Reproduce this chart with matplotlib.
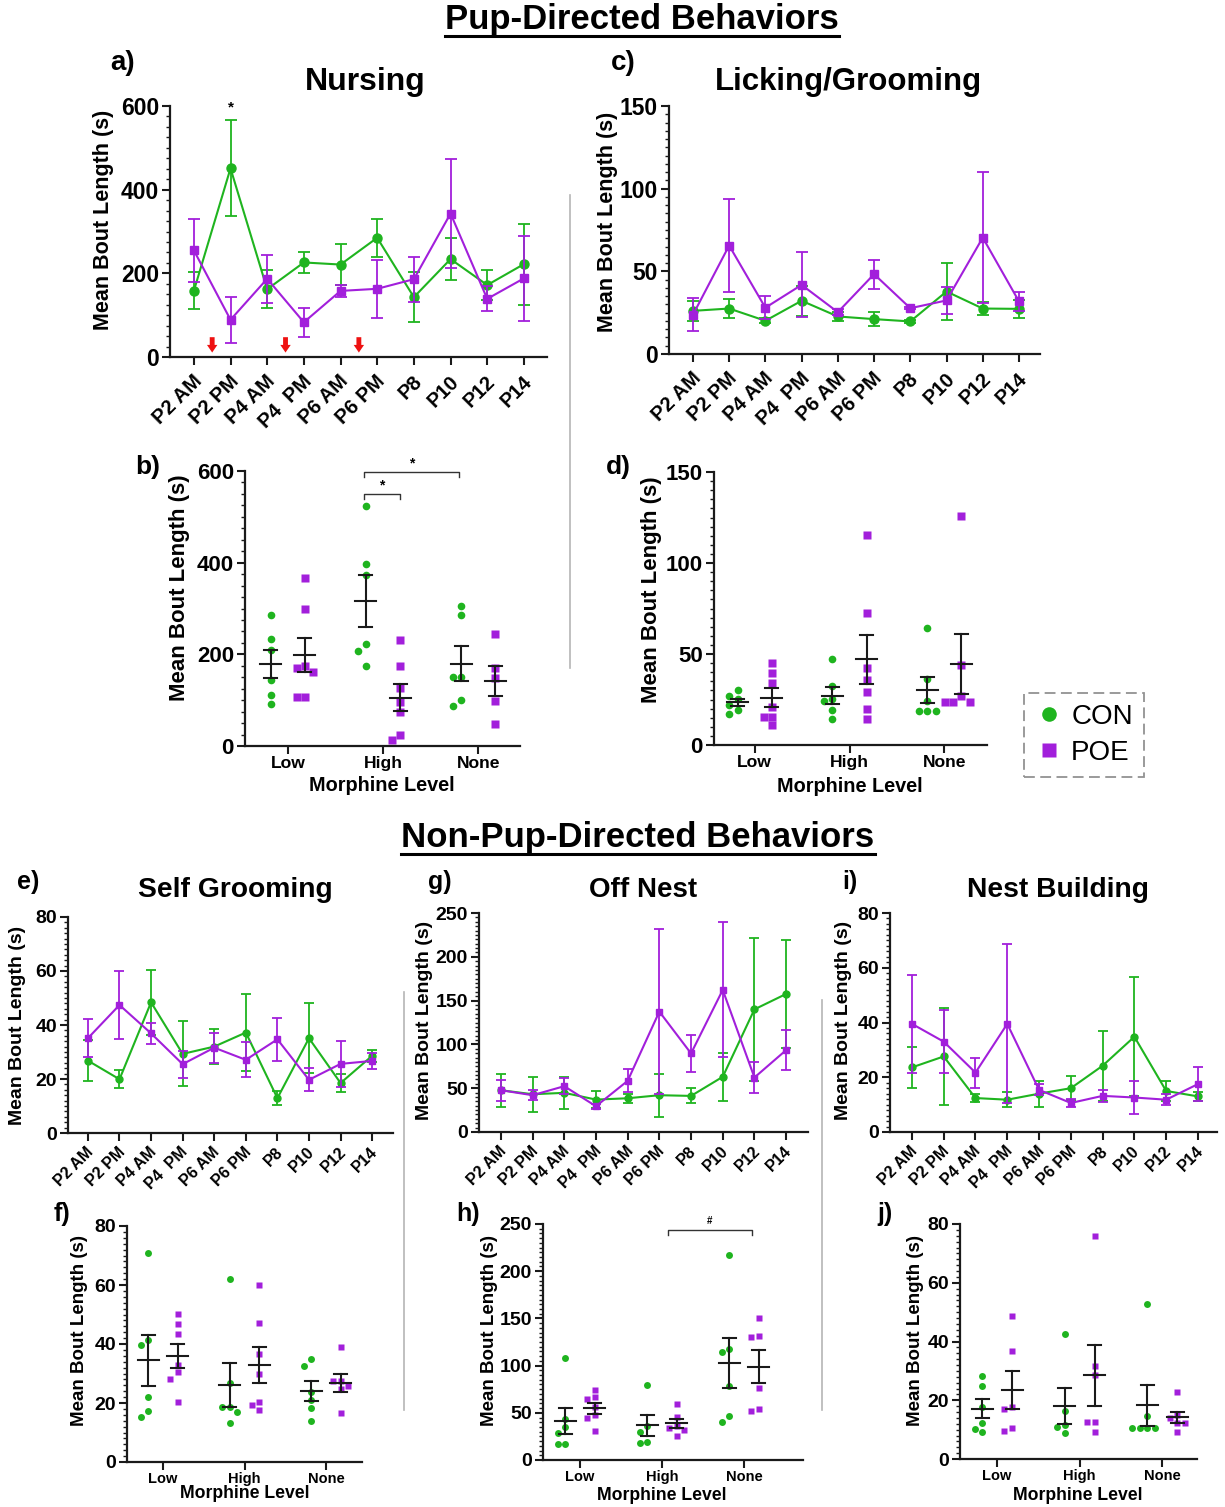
import numpy as np
import matplotlib
matplotlib.use('Agg')
import matplotlib.pyplot as plt
from matplotlib.lines import Line2D
from matplotlib.ticker import MultipleLocator
from matplotlib.transforms import ScaledTranslation

plt.rcParams['font.family'] = ['Liberation Sans', 'DejaVu Sans']
plt.rcParams['font.weight'] = 'bold'
plt.rcParams['axes.labelweight'] = 'bold'

W, H = 1225, 1507
GREEN = '#1FB41F'
PURPLE = '#A21FDB'
DARK = '#1a1a1a'

# ---------------- data ----------------
timepoints = ['P2 AM', 'P2 PM', 'P4 AM', 'P4  PM', 'P6 AM', 'P6 PM', 'P8', 'P10', 'P12', 'P14']
levels = ['Low', 'High', 'None']

nurs_con_mean = [158, 451, 162, 226, 221, 285, 143, 234, 172, 222]
nurs_con_sem = [44, 115, 46, 25, 49, 46, 60, 50, 35, 97]
nurs_poe_mean = [255, 89, 187, 83, 158, 163, 186, 343, 139, 188]
nurs_poe_sem = [75, 55, 57, 35, 15, 70, 54, 130, 30, 102]

lick_con_mean = [26.1, 27.5, 20.1, 32.2, 22.7, 21.1, 19.7, 37.8, 27.5, 27.3]
lick_con_sem = [6, 6, 1.5, 9, 3, 4.4, 1, 17.5, 4, 5.5]
lick_poe_mean = [23.7, 65.6, 28, 41.8, 25.3, 48.3, 27.7, 32.4, 70.4, 31.8]
lick_poe_sem = [10, 28, 7, 19.6, 2, 8.7, 0.5, 8, 39.7, 5.6]

self_con_mean = [26.8, 19.9, 48.4, 29.3, 32, 37.2, 12.9, 35.1, 18.5, 28.6]
self_con_sem = [7.5, 3.4, 12, 12, 6.5, 14.3, 2.6, 13, 3.3, 2.3]
self_poe_mean = [35.1, 47.4, 36.9, 25.5, 31.6, 27.1, 34.7, 19.7, 25.6, 26.7]
self_poe_sem = [7, 12.6, 4, 5, 5.5, 6.5, 8, 4.2, 8.6, 3]

off_con_mean = [47.7, 43.1, 44.7, 37, 38.5, 42, 41.2, 63, 140, 157.6]
off_con_sem = [18.7, 20, 18, 10, 5, 24.5, 8.6, 27.6, 82, 62]
off_poe_mean = [47.7, 42, 52.3, 29.4, 58.4, 137.4, 89.7, 162.2, 62.2, 93.5]
off_poe_sem = [12, 6, 9, 3, 13, 94, 21.5, 77, 18, 23]

nest_con_mean = [23.6, 27.6, 12.4, 11.8, 14, 16, 24.2, 34.8, 15, 13]
nest_con_sem = [7.6, 17.8, 1.6, 2.8, 4.7, 4.3, 12.7, 21.8, 3.8, 1.5]
nest_poe_mean = [39.5, 33, 21.7, 39.5, 15.4, 10.6, 13.2, 12.6, 11.8, 17.5]
nest_poe_sem = [17.8, 11.5, 5.5, 29, 2, 1.6, 2.3, 6, 2, 6.2]

# individual dams per morphine level (Low, High, None)
nurs_con_pts = [[285, 234, 210, 143, 112, 92], [524, 397, 373, 222, 207, 174], [305, 285, 151, 151, 100, 87]]
nurs_poe_pts = [[367, 300, 174, 171, 162, 107, 106], [232, 174, 127, 95, 74, 23, 12], [245, 171, 149, 98, 47]]
lick_con_pts = [[30, 27, 25.5, 22, 19.5, 17], [47, 32.5, 25.5, 24, 19.3, 14.1], [64.2, 36.1, 24.4, 18.9, 18.9, 18.9]]
lick_poe_pts = [[45, 39.8, 33.9, 21.1, 15.6, 15.6, 11], [115.5, 72.8, 42.2, 35.8, 29.3, 19.6, 14.1],
                [125.6, 44, 27, 23.8, 23.8, 23.8]]
self_con_pts = [[71, 41.4, 39.7, 22.2, 17.4, 15.2], [62, 26.7, 18.6, 18.6, 17, 13.2], [35, 32.7, 23.6, 21.1, 18.3, 13.8]]
self_poe_pts = [[50.1, 46.7, 43.3, 32.9, 30.4, 28.2, 20.5], [59.9, 47, 36.7, 29.8, 20.5, 19.2, 17.7],
                [38.9, 27.5, 27.3, 25.9, 24.7, 16.6]]
off_con_pts = [[108.4, 43, 35.3, 28.2, 16.6, 16.6], [79.4, 36.4, 30, 19.4, 17.7], [217.2, 117.6, 114, 78.7, 47, 40.6]]
off_poe_pts = [[74.2, 66.4, 64.3, 55.8, 47.7, 44.1, 31], [59.3, 45.9, 36.4, 34.2, 31.8, 25.4],
               [150.8, 131.4, 130, 75.9, 54, 51.6]]
nest_con_pts = [[28.4, 24.9, 17.7, 12.2, 10.3, 9.2], [42.5, 16.5, 11.7, 10.8, 8.8], [52.8, 14.8, 10.5, 10.5, 10.5, 10.5]]
nest_poe_pts = [[48.8, 36.8, 17.7, 17, 10.5, 9.6], [75.9, 31.8, 28.7, 12.5, 12.5, 9.2], [22.8, 15.1, 13.9, 12.2, 12.2, 9.2]]

fig = plt.figure(figsize=(W / 100, H / 100), dpi=100)
fig.patch.set_facecolor('white')


def px_axes(box):
    l, t, r, b = box
    return fig.add_axes([l / W, 1 - b / H, (r - l) / W, (b - t) / H])


def style(ax, box, ymax, major, minor, ytfs, ylabel, ylab_c, ylfs):
    l, t, r, b = box
    for s in ['top', 'right']:
        ax.spines[s].set_visible(False)
    for s in ['left', 'bottom']:
        ax.spines[s].set_linewidth(1.6)
        ax.spines[s].set_color(DARK)
    ax.set_ylim(0, ymax)
    ax.yaxis.set_major_locator(MultipleLocator(major))
    ax.yaxis.set_minor_locator(MultipleLocator(minor))
    ax.tick_params(axis='y', which='major', length=6, width=1.5, labelsize=ytfs, pad=2, color=DARK)
    ax.tick_params(axis='y', which='minor', length=3, width=1.0, color=DARK)
    ax.tick_params(axis='x', which='major', length=6, width=1.5, color=DARK)
    ax.patch.set_alpha(0)
    ax.set_ylabel(ylabel, fontsize=ylfs, fontweight='bold', va='center')
    cx, cy = ylab_c
    ax.yaxis.set_label_coords((cx - l) / (r - l), (b - cy) / (b - t))


def line_panel(box, xlim, ymax, major, minor, cm, cs, pm, ps, ms, xtfs, ytfs, ylab_c, ylfs, lpad, shift):
    ax = px_axes(box)
    x = np.arange(len(timepoints))
    ax.errorbar(x, cm, yerr=cs, color=GREEN, marker='o', ms=ms, lw=1.5, capsize=ms * 0.65,
                elinewidth=1.3, capthick=1.3, zorder=3)
    ax.errorbar(x, pm, yerr=ps, color=PURPLE, marker='s', ms=ms * 0.95, lw=1.5, capsize=ms * 0.65,
                elinewidth=1.3, capthick=1.3, zorder=4)
    ax.set_xlim(*xlim)
    style(ax, box, ymax, major, minor, ytfs, 'Mean Bout Length (s)', ylab_c, ylfs)
    ax.set_xticks(x)
    ax.set_xticklabels(timepoints, rotation=45, ha='right', va='center', rotation_mode='anchor',
                       fontsize=xtfs, fontweight='bold')
    ax.tick_params(axis='x', pad=lpad)
    off = ScaledTranslation(shift[0] / 100, -shift[1] / 100, fig.dpi_scale_trans)
    for lbl in ax.get_xticklabels():
        lbl.set_transform(lbl.get_transform() + off)
    return ax


def swarm_offsets(vals, ppx, ppy, d):
    vals = np.asarray(vals, float)
    order = np.argsort(-vals)
    placed = []
    offs = np.zeros(len(vals))
    for i in order:
        y = vals[i] * ppy
        k = 0
        while True:
            cands = [0.0] if k == 0 else [-k * d, k * d]
            ok = None
            for c in cands:
                if all((c - px) ** 2 + (y - py) ** 2 >= (0.95 * d) ** 2 for px, py in placed):
                    ok = c
                    break
            if ok is not None:
                offs[i] = ok / ppx
                placed.append((ok, y))
                break
            k += 1
    return offs


def group_panel(box, xlim, ymax, major, minor, con_pts, poe_pts, ms, xtfs, ytfs, ylab_c, ylfs, xlab_c, xlfs):
    ax = px_axes(box)
    l, t, r, b = box
    ppx = (r - l) / (xlim[1] - xlim[0])
    ppy = (b - t) / ymax
    d = ms * 1.389 + 0.6
    for gi in range(len(levels)):
        for pts, off, col, mk, msz in [(con_pts[gi], -0.18, GREEN, 'o', ms), (poe_pts[gi], 0.18, PURPLE, 's', ms * 0.92)]:
            xc = gi + off
            jit = swarm_offsets(pts, ppx, ppy, d)
            ax.plot(xc + jit, pts, ls='', marker=mk, ms=msz, color=col, mec='none', zorder=2, clip_on=False)
            arr = np.asarray(pts, float)
            m = arr.mean()
            s = arr.std(ddof=1) / np.sqrt(len(arr))
            hw = 10.5 / ppx
            cw = 6.5 / ppx
            ax.plot([xc - hw, xc + hw], [m, m], color=DARK, lw=1.5, zorder=4)
            ax.plot([xc, xc], [m - s, m + s], color=DARK, lw=1.5, zorder=4)
            ax.plot([xc - cw, xc + cw], [m + s, m + s], color=DARK, lw=1.5, zorder=4)
            ax.plot([xc - cw, xc + cw], [m - s, m - s], color=DARK, lw=1.5, zorder=4)
    ax.set_xlim(*xlim)
    style(ax, box, ymax, major, minor, ytfs, 'Mean Bout Length (s)', ylab_c, ylfs)
    ax.set_xticks(range(len(levels)))
    ax.set_xticklabels(levels, fontsize=xtfs, fontweight='bold')
    ax.tick_params(axis='x', pad=1.5)
    ax.set_xlabel('Morphine Level', fontsize=xlfs, fontweight='bold', va='center')
    cx, cy = xlab_c
    ax.xaxis.set_label_coords((cx - l) / (r - l), (b - cy) / (b - t))
    return ax


# ---------------- panels ----------------
box_a = (170, 106, 547, 357)
ax_a = line_panel(box_a, (-0.65, 9.63), 600, 200, 25, nurs_con_mean, nurs_con_sem, nurs_poe_mean, nurs_poe_sem,
                  6.5, 14.5, 16.5, (103, 220), 15.5, 3, (5, 9))
for xa in [0.5, 2.5, 4.5]:
    ax_a.annotate('', xy=(xa, 4), xytext=(xa, 54),
                  arrowprops=dict(arrowstyle='simple,head_length=0.55,head_width=0.75,tail_width=0.35',
                                  color='#EE1111', lw=0))
ax_a.text(1, 597, '*', ha='center', va='center', fontsize=11, clip_on=False)

box_c = (669, 106, 1040, 354)
line_panel(box_c, (-0.66, 9.58), 150, 50, 5, lick_con_mean, lick_con_sem, lick_poe_mean, lick_poe_sem,
           6.5, 14.5, 16.5, (608, 222), 15.5, 3, (5, 9))

box_b = (245, 471, 520, 746)
ax_b = group_panel(box_b, (-0.45, 2.44), 600, 200, 25, nurs_con_pts, nurs_poe_pts, 5.5, 12.6, 16,
                   (180, 588), 16, (382, 786), 14.3)
ax_b.plot([0.8, 0.8, 1.8, 1.8], [587, 598, 598, 587], color='#333', lw=1.0, clip_on=False)
ax_b.text(1.3, 616, '*', ha='center', va='center', fontsize=10, clip_on=False)
ax_b.plot([0.8, 0.8, 1.18, 1.18], [539, 550, 550, 539], color='#333', lw=1.0, clip_on=False)
ax_b.text(0.99, 568, '*', ha='center', va='center', fontsize=10, clip_on=False)

box_d = (714, 472, 987, 745)
group_panel(box_d, (-0.43, 2.45), 150, 50, 5, lick_con_pts, lick_poe_pts, 5.5, 12.6, 16,
            (651, 590), 16, (850, 786), 14.3)

box_e = (68, 917, 393, 1133)
line_panel(box_e, (-0.63, 9.66), 80, 20, 2, self_con_mean, self_con_sem, self_poe_mean, self_poe_sem,
           5.0, 11.5, 14, (18, 1025), 14, 2.5, (3, 5))
box_g = (479, 913, 808, 1132)
line_panel(box_g, (-0.69, 9.69), 250, 50, 5, off_con_mean, off_con_sem, off_poe_mean, off_poe_sem,
           5.0, 11.5, 14, (424, 1020), 14, 2.5, (3, 5))
box_i = (890, 913, 1217, 1132)
line_panel(box_i, (-0.69, 9.6), 80, 20, 2, nest_con_mean, nest_con_sem, nest_poe_mean, nest_poe_sem,
           5.0, 11.5, 14, (843, 1020), 14, 2.5, (3, 5))

box_f = (127, 1226, 362, 1462)
group_panel(box_f, (-0.44, 2.44), 80, 20, 2, self_con_pts, self_poe_pts, 5.0, 10.5, 14,
            (80, 1330), 13.5, (245, 1494), 12.7)
box_h = (543, 1224, 803, 1460)
ax_h = group_panel(box_h, (-0.45, 2.72), 250, 50, 5, off_con_pts, off_poe_pts, 5.0, 10.5, 14,
                   (490, 1330), 13.5, (662, 1495), 12.7)
ax_h.plot([1.07, 1.07, 2.1, 2.1], [238, 244, 244, 238], color='#333', lw=1.0, clip_on=False)
ax_h.text(1.585, 253, '#', ha='center', va='center', fontsize=7, clip_on=False)
box_j = (960, 1224, 1197, 1459)
group_panel(box_j, (-0.45, 2.42), 80, 20, 2, nest_con_pts, nest_poe_pts, 5.0, 10.5, 14,
            (915, 1330), 13.5, (1078, 1495), 12.7)

# ---------------- figure text ----------------
def ftext(x, y, s, fs, **kw):
    return fig.text(x / W, 1 - y / H, s, ha='center', va='center', fontsize=fs, fontweight='bold', **kw)


h1 = ftext(642, 19, 'Pup-Directed Behaviors', 25)
h2 = ftext(638, 837, 'Non-Pup-Directed Behaviors', 25)
ftext(365, 82, 'Nursing', 23)
ftext(848, 82, 'Licking/Grooming', 22.5)
ftext(235, 890, 'Self Grooming', 20.3)
ftext(643, 890, 'Off Nest', 20)
ftext(1058, 890, 'Nest Building', 20.3)
for lab, x, y, fs in [('a)', 123, 63, 20), ('c)', 623, 63, 20), ('b)', 148, 467, 19), ('d)', 618, 467, 19),
                      ('e)', 28, 882, 18), ('g)', 440, 882, 18), ('i)', 850, 882, 18),
                      ('f)', 62, 1214, 18), ('h)', 468, 1214, 18), ('j)', 885, 1214, 18)]:
    ftext(x, y, lab, fs)

fig.canvas.draw()
for t, yy in [(h1, 36), (h2, 854)]:
    bb = t.get_window_extent()
    fig.add_artist(Line2D([bb.x0 / W, bb.x1 / W], [1 - yy / H] * 2, color='black', lw=2.2))

# divider lines
for x, y0, y1 in [(570, 195, 668), (404, 992, 1410), (822, 1000, 1410)]:
    fig.add_artist(Line2D([x / W, x / W], [1 - y0 / H, 1 - y1 / H], color='#b5b5b5', lw=1.2))

# legend
handles = [Line2D([], [], ls='', marker='o', ms=10.5, color=GREEN, mec='none'),
           Line2D([], [], ls='', marker='s', ms=9.5, color=PURPLE, mec='none')]
leg = fig.legend(handles, ['CON', 'POE'], loc='center', bbox_to_anchor=(1084 / W, 1 - 735 / H),
                 frameon=True, fancybox=False, edgecolor='#777777', prop={'size': 20, 'weight': 'normal'},
                 handletextpad=0.3, borderpad=0.4, handlelength=1.0, labelspacing=0.35, borderaxespad=0)
leg.get_frame().set_linestyle((0, (6, 3)))
leg.get_frame().set_linewidth(1.3)

fig.savefig('out.png', dpi=100, facecolor='white')
